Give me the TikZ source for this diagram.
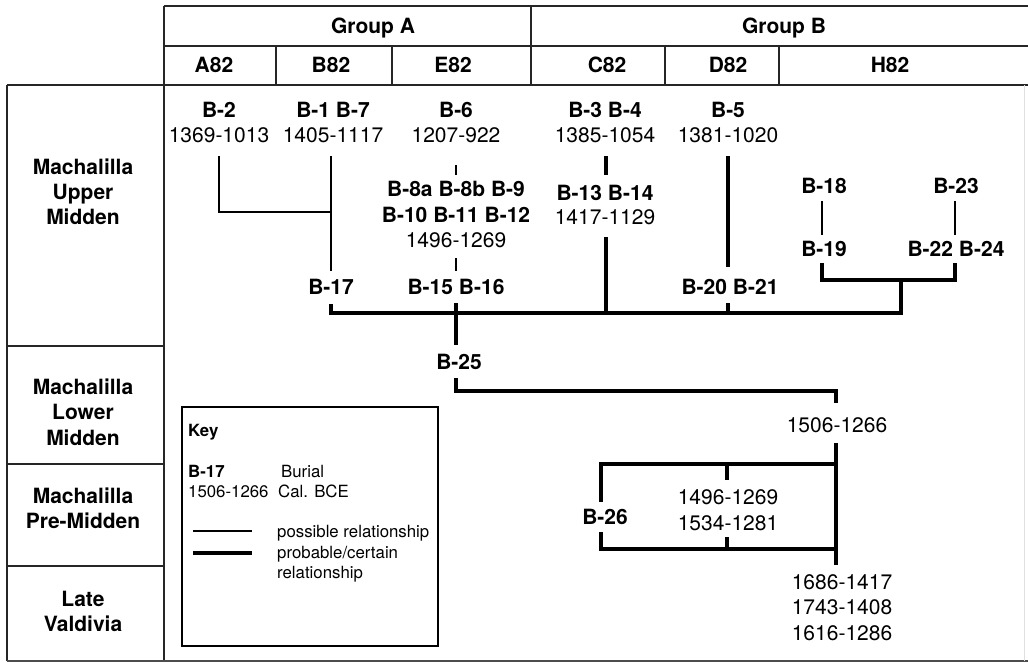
\documentclass[tikz,border=0pt]{standalone}
\usepackage{fontspec}
\setmainfont{TeX Gyre Heros}
\begin{document}
\begin{tikzpicture}[x=1pt,y=-1pt,
  lab/.style={font=\fontsize{21}{25}\selectfont, inner sep=0pt, text height=15pt, text depth=0pt},
  blab/.style={lab, font=\bfseries\fontsize{21}{25}\selectfont},
  klab/.style={font=\fontsize{16.8}{20}\selectfont, inner sep=0pt, text height=12pt, text depth=0pt, anchor=west},
  kblab/.style={klab, font=\bfseries\fontsize{16.8}{20}\selectfont},
  tbl/.style={line width=2pt, draw=black!85},
  poss/.style={line width=1.3pt},
  prob/.style={line width=4pt},
]
\useasboundingbox (0,0) rectangle (1028,662);
% ---- table ----
\draw[tbl] (164,6) -- (1028,6);
\draw[tbl] (164,46) -- (1028,46);
\draw[tbl] (7,85) -- (1028,85);
\draw[tbl] (164,6) -- (164,661);
\draw[tbl] (531,6) -- (531,85);
\foreach \xx in {276,392,665,779} \draw[tbl] (\xx,46) -- (\xx,85);
\draw[tbl] (7,85) -- (7,661);
\foreach \yy in {346,464,566} \draw[tbl] (7,\yy) -- (164,\yy);
\draw[line width=2pt, draw=black!70] (7,661) -- (1028,661);
\draw[line width=1pt, draw=black!12] (1024,85) -- (1024,661);
% headers
\node[blab] (ga) at (373,26) {Group A};
\node[blab] (gb) at (784,26) {Group B};
\node[blab] (ca) at (214,65) {A82};
\node[blab] (cb) at (331,65) {B82};
\node[blab] (ce) at (453,65) {E82};
\node[blab] (cc) at (607,65) {C82};
\node[blab] (cd) at (728,65) {D82};
\node[blab] (ch) at (890,65) {H82};
% row labels
\node[blab] (r1a) at (83,167) {Machalilla};
\node[blab] (r1b) at (83,192) {Upper};
\node[blab] (r1c) at (83,217) {Midden};
\node[blab] (r2a) at (83,387) {Machalilla};
\node[blab] (r2b) at (83,412) {Lower};
\node[blab] (r2c) at (83,438) {Midden};
\node[blab] (r3a) at (83,496) {Machalilla};
\node[blab] (r3b) at (83,521) {Pre-Midden};
\node[blab] (r4a) at (83,599) {Late};
\node[blab] (r4b) at (83,624) {Valdivia};
% ---- burials ----
\node[blab] (b2) at (219,110) {B-2};
\node[lab] (b2d) at (219,135) {1369-1013};
\node[blab] (b17a) at (333,110) {B-1 B-7};
\node[lab] (b17d) at (333,135) {1405-1117};
\node[blab] (b6) at (456,110) {B-6};
\node[lab] (b6d) at (456,135) {1207-922};
\node[blab] (b34) at (605,110) {B-3 B-4};
\node[lab] (b34d) at (605,135) {1385-1054};
\node[blab] (b5) at (728,110) {B-5};
\node[lab] (b5d) at (728,135) {1381-1020};
\node[blab] (b8) at (456,189) {B-8a B-8b B-9};
\node[blab] (b10) at (456,215) {B-10 B-11 B-12};
\node[lab] (b10d) at (456,240) {1496-1269};
\node[blab] (b13) at (605,193) {B-13 B-14};
\node[lab] (b13d) at (605,217) {1417-1129};
\node[blab] (b18) at (824,186) {B-18};
\node[blab] (b23) at (956,186) {B-23};
\node[blab] (b19) at (824,249) {B-19};
\node[blab] (b22) at (956,249) {B-22 B-24};
\node[blab] (b17) at (331,287) {B-17};
\node[blab] (b15) at (456,287) {B-15 B-16};
\node[blab] (b20) at (730,287) {B-20 B-21};
\node[blab] (b25) at (459,362) {B-25};
\node[lab] (d1506) at (837,425) {1506-1266};
\node[blab] (b26) at (605,517) {B-26};
\node[lab] (d1496) at (728,497) {1496-1269};
\node[lab] (d1534) at (728,523) {1534-1281};
\node[lab] (d1686) at (842,582) {1686-1417};
\node[lab] (d1743) at (842,607) {1743-1408};
\node[lab] (d1616) at (842,633) {1616-1286};
% ---- junction coordinates ----
\coordinate (jA) at (331,212);
\coordinate (jL) at (331,313);
\coordinate (jM) at (456,313);
\coordinate (jR) at (901,313);
\coordinate (jH) at (901,280);
\coordinate (h1) at (822,280);
\coordinate (h2) at (955,280);
\coordinate (k1) at (456,391);
\coordinate (k2) at (836,391);
\coordinate (t1) at (836,464);
\coordinate (t2) at (601,464);
\coordinate (t3) at (836,549);
\coordinate (t4) at (601,549);
% ---- possible relationships ----
\draw[poss] (b2 |- 0,156) -- (b2 |- jA) -- (jA);
\draw[poss] (b17 |- 0,156) -- (b17 |- 0,271);
\draw[poss] (b6 |- 0,165) -- (b6 |- 0,175);
\draw[poss] (b6 |- 0,258) -- (b6 |- 0,271);
\draw[poss] (822,201) -- (h1 |- 0,235);
\draw[poss] (955,201) -- (h2 |- 0,235);
% ---- probable relationships ----
\draw[prob] (606,156) -- (606,175);
\draw[prob] (606,237) -- (606,313);
\draw[prob] (b5 |- 0,156) -- (b5 |- 0,267);
\draw[prob] (b5 |- 0,303) -- (b5 |- jL);
\draw[prob] (b17 |- 0,304) -- (jL) -- (jR) -- (jH);
\draw[prob] (822,263) -- (h1) -- (h2) -- (955,263);
\draw[prob] (b15 |- 0,303) -- (b15 |- 0,345);
\draw[prob] (b15 |- 0,378) -- (k1) -- (k2) -- (836,403);
\draw[prob] (836,443) -- (836,565);
\draw[prob] (t1) -- (t2) -- (601,502);
\draw[prob] (601,532) -- (t4) -- (t3);
\draw[prob] (727,464) -- (727,480);
\draw[prob] (727,537) -- (727,549);
% ---- key ----
\draw[line width=1.6pt] (182,407) rectangle (438,646);
\node[kblab] (kk) at (188,430) {Key};
\node[kblab] (kb) at (188,471) {B-17};
\node[klab] (kd) at (188,491) {1506-1266};
\node[klab] (kbur) at (281,471) {Burial};
\node[klab] (kcal) at (278,491) {Cal. BCE};
\node[klab] (kp1) at (277,531) {possible relationship};
\node[klab] (kp2) at (277,552) {probable/certain};
\node[klab] (kp3) at (277,572) {relationship};
\coordinate (ka) at (193,531);
\coordinate (kc) at (193,553);
\draw[poss] (ka) -- (252,531);
\draw[prob] (kc) -- (252,553);
\end{tikzpicture}
\end{document}
